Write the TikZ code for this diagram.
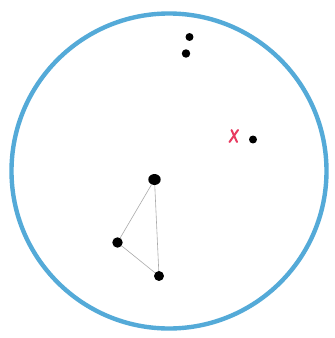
\documentclass[tikz,border=0pt]{standalone}
\usetikzlibrary{calc,shapes.geometric}
\definecolor{ringblue}{RGB}{84,170,216}
\definecolor{markred}{RGB}{232,58,96}
\definecolor{linegray}{RGB}{170,170,170}
\tikzset{
  dot/.style={circle,fill=black,inner sep=0pt},
  ring/.style={draw=ringblue,line width=4.4pt},
  edge/.style={draw=linegray,line width=0.6pt},
  xmark/.style={draw=markred,line width=2pt,line cap=round}
}
\begin{document}
\begin{tikzpicture}[x=1bp,y=-1bp]
\useasboundingbox (0,0) rectangle (335,338);
\fill[white] (0,0) rectangle (335,338);
\node[draw=none] (c) at (169,171) {};
\draw[ring] (c.center) circle (157.5);
\node[dot,minimum size=8pt] (a) at (189.5,37) {};
\node[dot,minimum size=8.5pt] (b) at (186,53.5) {};
\node[dot,minimum size=8pt] (e) at (253,139.5) {};
\node[dot,ellipse,minimum width=12.5pt,minimum height=11pt] (p) at (154.5,179.5) {};
\node[dot,minimum size=10.5pt] (q) at (117.5,242.5) {};
\node[dot,minimum size=10pt] (r) at (159,276) {};
\draw[edge] (p) -- (q);
\draw[edge] (q) -- (r);
\draw[edge] (p) -- (r);
\coordinate (xm) at (234,136);
\draw[xmark] ($(xm)+(-2.5,-6)$) -- ($(xm)+(3,6)$);
\draw[xmark] ($(xm)+(4,-6)$) -- ($(xm)+(-4.5,6)$);
\end{tikzpicture}
\end{document}
